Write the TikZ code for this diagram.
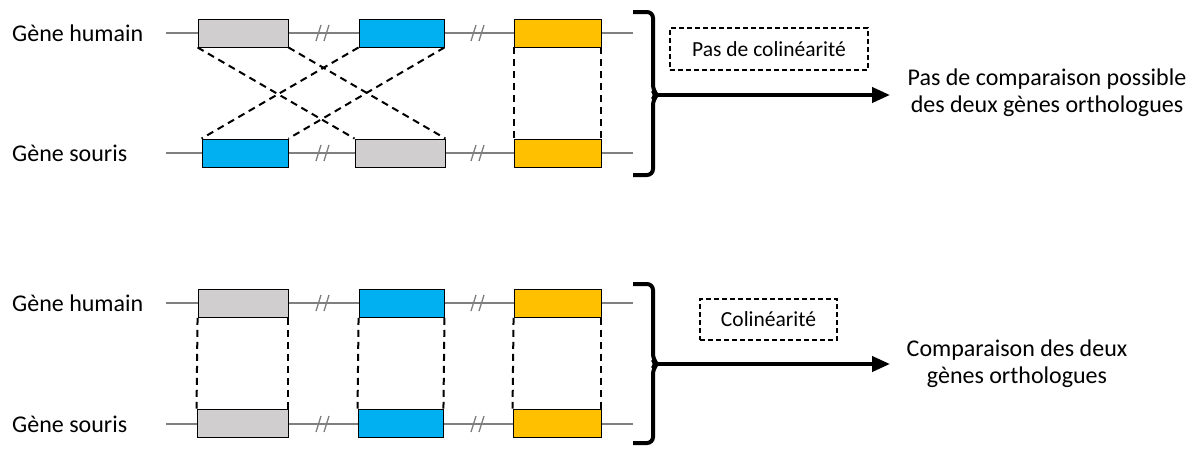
\documentclass[tikz,border=0pt]{standalone}
\usepackage{fontspec}
\setmainfont{Carlito}
\usetikzlibrary{arrows.meta,calc}
\definecolor{gGrey}{HTML}{D0CECE}
\definecolor{gBlue}{HTML}{00B0F0}
\definecolor{gYellow}{HTML}{FFC000}
\definecolor{gLine}{HTML}{7F7F7F}
\tikzset{
  genebox/.style={draw=black, line width=0.9pt, minimum height=28pt, inner sep=0pt, anchor=center},
  geneline/.style={draw=gLine, line width=1.4pt},
  slashmark/.style={draw=gLine, line width=1.3pt},
  link/.style={draw=black, line width=2pt, dash pattern=on 7pt off 5pt},
  bracepath/.style={draw=black, line width=4pt, rounded corners=6pt},
  bigarrow/.style={draw=black, line width=4pt, -{Triangle[length=18pt,width=15pt]}},
  infobox/.style={draw=black, line width=1.2pt, dash pattern=on 5pt off 3pt, font=\fontsize{21.5}{24}\selectfont, inner sep=0pt},
  rowlabel/.style={anchor=west, font=\fontsize{24}{27}\selectfont, inner sep=0pt},
  outcome/.style={align=center, font=\fontsize{24}{27}\selectfont, inner sep=0pt},
  pics/breakmark/.style={code={
    \draw[slashmark] (-7,8) -- (-2,-8);
    \draw[slashmark] (1,8) -- (6,-8);
  }}
}
\begin{document}
\begin{tikzpicture}[x=1pt,y=-1pt]
\useasboundingbox (0,0) rectangle (1199,448);

% ---------- TOP PANEL ----------
\coordinate (t1l) at (166,33);  \coordinate (t1r) at (633,33);
\coordinate (t2l) at (166,153); \coordinate (t2r) at (633,153);
\draw[geneline] (t1l) -- (t1r);
\draw[geneline] (t2l) -- (t2r);
\pic at (323,33) {breakmark};
\pic at (478,33) {breakmark};
\pic at (323,153) {breakmark};
\pic at (478,153) {breakmark};

\node[rowlabel] (lh1) at (12,33) {Gène humain};
\node[rowlabel] (ls1) at (12,153) {Gène souris};

\node[genebox, fill=gGrey,   minimum width=90pt] (th1) at (243,33) {};
\node[genebox, fill=gBlue,   minimum width=85pt] (th2) at (401.5,33) {};
\node[genebox, fill=gYellow, minimum width=87pt] (th3) at (557.5,33) {};
\node[genebox, fill=gBlue,   minimum width=86pt] (tm1) at (245,153) {};
\node[genebox, fill=gGrey,   minimum width=90pt] (tm2) at (400,153) {};
\node[genebox, fill=gYellow, minimum width=87pt] (tm3) at (557.5,153) {};

\draw[link] (th1.south west) -- (tm2.north west);
\draw[link] (th1.south east) -- (tm2.north east);
\draw[link] (th2.south west) -- (tm1.north west);
\draw[link] (th2.south east) -- (tm1.north east);
\draw[link] (th3.south west) -- (tm3.north west);
\draw[link] (th3.south east) -- (tm3.north east);

\coordinate (tb1) at (657,95);
\draw[bracepath] (633,12) -- (653,12) -- (653,91) -- (tb1) -- (653,99) -- (653,175) -- (633,175);
\coordinate (ta1) at (890,95);
\draw[bigarrow] (tb1) -- (ta1);

\node[infobox, minimum width=198pt, minimum height=42pt] (ib1) at (769,49) {Pas de colinéarité};
\node[outcome] (oc1) at (1047,93) {Pas de comparaison possible\\des deux gènes orthologues};

% ---------- BOTTOM PANEL ----------
\coordinate (b1l) at (166,303); \coordinate (b1r) at (633,303);
\coordinate (b2l) at (166,424); \coordinate (b2r) at (633,424);
\draw[geneline] (b1l) -- (b1r);
\draw[geneline] (b2l) -- (b2r);
\pic at (323,303) {breakmark};
\pic at (478,303) {breakmark};
\pic at (323,424) {breakmark};
\pic at (478,424) {breakmark};

\node[rowlabel] (lh2) at (12,303) {Gène humain};
\node[rowlabel] (ls2) at (12,424) {Gène souris};

\node[genebox, fill=gGrey,   minimum width=90pt] (bh1) at (243,303.5) {};
\node[genebox, fill=gBlue,   minimum width=85pt] (bh2) at (401.5,303.5) {};
\node[genebox, fill=gYellow, minimum width=87pt] (bh3) at (557.5,303.5) {};
\node[genebox, fill=gGrey,   minimum width=91pt] (bm1) at (242.5,423) {};
\node[genebox, fill=gBlue,   minimum width=85pt] (bm2) at (400.5,423) {};
\node[genebox, fill=gYellow, minimum width=88pt] (bm3) at (557,423) {};

\draw[link] (bh1.south west) -- (bm1.north west);
\draw[link] (bh1.south east) -- (bm1.north east);
\draw[link] (bh2.south west) -- (bm2.north west);
\draw[link] (bh2.south east) -- (bm2.north east);
\draw[link] (bh3.south west) -- (bm3.north west);
\draw[link] (bh3.south east) -- (bm3.north east);

\coordinate (tb2) at (657,364);
\draw[bracepath] (633,284) -- (653,284) -- (653,360) -- (tb2) -- (653,368) -- (653,443) -- (633,443);
\coordinate (ta2) at (890,364);
\draw[bigarrow] (tb2) -- (ta2);

\node[infobox, minimum width=137pt, minimum height=41pt] (ib2) at (768.5,319.5) {Colinéarité};
\node[outcome] (oc2) at (1017,364) {Comparaison des deux\\gènes orthologues};
\end{tikzpicture}
\end{document}
